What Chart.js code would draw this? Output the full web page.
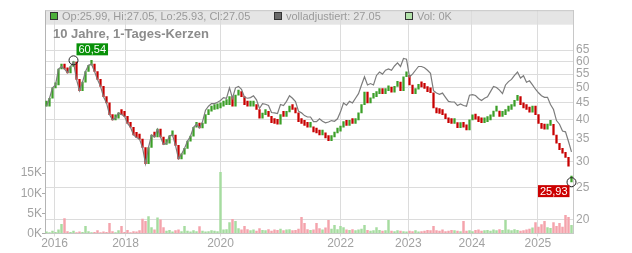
<!DOCTYPE html>
<html>
<head>
<meta charset="utf-8">
<script src="https://cdn.jsdelivr.net/npm/chart.js@4.4.1/dist/chart.umd.min.js"></script>
<style>
  html, body { margin: 0; padding: 0; background: #fff; }
  canvas { display: block; }
</style>
</head>
<body>
<canvas id="chart" width="632" height="253"></canvas>
<script>
// year boundaries, as positions on the candle index axis
const yearTicks = [2.67, 26.33, 58, 98, 120.6, 141.8, 163.8];
const yearLabels = ['2016', '2018', '2020', '2022', '2023', '2024', '2025'];
const priceTicks = [20, 25, 30, 35, 40, 45, 50, 55, 60, 65];
const volumeTicks = [0, 5000, 10000, 15000];

// grey line (volladjustiert)
const adjusted = [
    44, 46.5, 50, 51, 57, 58, 57, 55.5, 58, 59.8,
    53, 49, 52, 56, 58.5, 59, 56, 53, 50.5, 47,
    45, 41.5, 40, 40.5, 42, 41.5, 41, 39, 38, 36,
    35.4, 35, 33, 29.5, 33, 36, 35.5, 37.5, 35.5, 33.7,
    34, 35.8, 36, 33.5, 30.5, 31.5, 32.8, 34.5, 35.7, 38,
    38.8, 37.8, 39.5, 42.8, 44, 44.8, 44.8, 45.2, 45.8, 46.7,
    46.5, 50, 46.5, 50, 50.5, 49.5, 46.8, 46.5, 46.7, 47.3,
    46, 43.3, 44.8, 44.6, 44.2, 42.1, 42, 41.8, 44.5, 44.2,
    45.5, 47.3, 46.5, 45.4, 42.5, 42, 41.2, 40.8, 40.8, 39.5,
    39.5, 40.3, 39.6, 39.2, 39.4, 39.8, 39.6, 40.3, 42.3, 45,
    44.3, 45.5, 45, 46.5, 48, 51, 54, 51, 51.5, 51,
    54.5, 55.8, 55, 56.5, 57, 56.5, 58.2, 59.5, 58, 61.3,
    61, 54, 55, 56.5, 58, 58, 57.5, 56.5, 55.3, 49,
    48.2, 47.8, 48.2, 46.8, 45.5, 45.3, 45.3, 44.2, 44.7, 44.2,
    44, 47.5, 47.7, 47.4, 46.4, 45.8, 46.5, 47, 48.7, 50.5,
    50.1, 49.2, 48, 51, 52.2, 53, 54.5, 55.8, 53.5, 54.4,
    52, 52.5, 51, 49.5, 48.3, 47.3, 46.8, 46.8, 44.5, 43,
    39.8, 38.8, 37, 36.8, 34.4, 32
];

// candle closes
const closes = [
    44, 46.5, 50, 51, 57, 58, 57, 55.5, 58, 59.8,
    53, 49, 52, 56, 58.5, 59, 56, 53, 50.5, 47,
    45, 41.5, 40, 40.5, 42, 41.5, 41, 39, 38, 36,
    35.4, 35, 33, 29.5, 33, 36, 35.5, 37.5, 35.5, 33.7,
    34, 35.8, 36, 33.5, 30.5, 31.5, 32.8, 34.5, 35.7, 38,
    38.8, 37.8, 39, 41.5, 42.5, 43, 43.2, 43.5, 44, 44.5,
    44.5, 47, 44, 47.5, 48, 47, 44.5, 44, 44, 44.5,
    43, 40.5, 41.5, 41.5, 41, 39.2, 39, 38.8, 41.5, 41,
    42.3, 44, 43, 42, 39.5, 39, 38.5, 38, 38, 36.8,
    36.5, 36, 36.5, 35.3, 34.6, 35.5, 36.5, 37, 38, 39.5,
    38.5, 39.5, 39, 40, 42, 44.5, 48.5, 45, 46.5, 47,
    48, 48.5, 48, 49, 49.5, 48.5, 50.5, 52, 49, 54,
    54.5, 51, 48, 49.5, 50.5, 50.3, 49.8, 48.7, 48.3, 43.5,
    42, 41.8, 41.5, 40.3, 39.2, 39, 39.2, 37.9, 38.2, 38,
    37.3, 40, 40.3, 40.2, 39.5, 39.2, 39.5, 40, 41, 42.5,
    42.5, 41, 41.5, 42.5, 43, 44, 45.8, 47, 44.5, 43.5,
    43, 42.2, 44, 41.5, 39, 37.7, 37.5, 38.5, 38.8, 36,
    34, 32.5, 31.7, 30.8, 29, 27.05
];

const volumes = [
    400, 200, 600, 300, 900, 2300, 3700, 500, 300, 600,
    200, 400, 300, 1800, 500, 200, 300, 700, 200, 400,
    300, 2500, 500, 200, 700, 1800, 300, 800, 200, 500,
    400, 700, 3600, 3000, 4200, 1500, 900, 3900, 3400, 1500,
    600, 800, 400, 700, 900, 500, 1800, 600, 400, 700,
    500, 1700, 600, 400, 500, 700, 600, 500, 15200, 900,
    1000, 2700, 3500, 3000, 1200, 900, 1800, 1000, 700, 900,
    600, 1200, 800, 700, 1000, 600, 900, 800, 1100, 700,
    900, 1000, 700, 800, 1100, 4000, 2500, 1000, 800, 900,
    2500, 1200, 900, 1400, 3300, 1100, 2000, 1000, 1800, 1500,
    900, 800, 1000, 700, 900, 1100, 2000, 800, 600, 700,
    1500, 800, 600, 700, 3300, 600, 500, 700, 600, 500,
    400, 600, 500, 700, 400, 500, 600, 800, 700, 1800,
    700, 600, 900, 500, 600, 800, 700, 600, 500, 3000,
    600, 700, 500, 800, 900, 600, 700, 800, 600, 900,
    700, 1000, 800, 3300, 900, 700, 1000, 800, 600, 700,
    900, 1100, 1400, 2700, 1600, 2200, 3000, 1500, 1300, 2700,
    1800, 2500, 1600, 4500, 4000, 2000
];

const lastCandle = { open: 25.99, high: 27.05, low: 25.93, close: 27.05 };
const highMark = { index: 9, value: 60.54 };
const lowMark = { index: 175, value: 25.93 };

const GREEN = '#3c9f28';
const RED = '#c80000';
const VOL_GREEN = '#a6dca0';
const VOL_RED = '#f4a3ac';

const N = closes.length;
const opens = closes.map((c, i) => i === 0 ? c : closes[i - 1]);
opens[N - 1] = lastCandle.open;
const isUp = closes.map((c, i) => c >= opens[i]);

const fmt = v => v.toFixed(2).replace('.', ',');

const decorations = {
    id: 'decorations',
    beforeDraw(chart) {
        const { ctx, chartArea: a } = chart;
        ctx.save();
        ctx.fillStyle = '#e5e5e5';
        ctx.fillRect(a.left, a.top, a.right - a.left, 14.5);
        ctx.restore();
    },
    afterDraw(chart) {
        const { ctx, chartArea: a, scales } = chart;
        ctx.save();

        // top frame line
        ctx.strokeStyle = '#c8c8c8';
        ctx.lineWidth = 1;
        ctx.beginPath();
        ctx.moveTo(a.left, a.top + 0.5);
        ctx.lineTo(a.right, a.top + 0.5);
        ctx.stroke();

        // legend row
        const squares = [
            { x: 50.5, fill: '#4caf3a', text: 'Op:' + lastCandle.open.toFixed(2) + ', Hi:' + lastCandle.high.toFixed(2) +
                ', Lo:' + lastCandle.low.toFixed(2) + ', Cl:' + lastCandle.close.toFixed(2) },
            { x: 274.5, fill: '#6a6a6a', text: 'volladjustiert: ' + lastCandle.close.toFixed(2) },
            { x: 405.5, fill: '#b2e2aa', text: 'Vol: 0K' }
        ];
        ctx.font = '11px "Liberation Sans", Arial, sans-serif';
        ctx.textBaseline = 'alphabetic';
        squares.forEach(s => {
            ctx.fillStyle = s.fill;
            ctx.fillRect(s.x, 12.5, 7, 7);
            ctx.strokeStyle = '#333';
            ctx.strokeRect(s.x, 12.5, 7, 7);
            ctx.fillStyle = '#9a9a9a';
            ctx.fillText(s.text, s.x + 11.5, 19.5);
        });

        // title
        ctx.font = 'bold 13px "Liberation Sans", Arial, sans-serif';
        ctx.fillStyle = '#8c8c8c';
        ctx.fillText('10 Jahre, 1-Tages-Kerzen', 53, 37.7);

        // high / low markers
        const marks = [
            { m: highMark, color: '#089108', dx: 3, above: true },
            { m: lowMark, color: '#cc0000', dx: -2, above: false }
        ];
        ctx.font = '11px "Liberation Sans", Arial, sans-serif';
        marks.forEach(({ m, color, dx, above }) => {
            const x = scales.x.getPixelForValue(m.index);
            const y = scales.price.getPixelForValue(m.value);
            ctx.strokeStyle = '#222';
            ctx.lineWidth = 1;
            ctx.beginPath();
            ctx.arc(x, y, 4.5, 0, Math.PI * 2);
            ctx.stroke();

            const label = fmt(m.value);
            const w = ctx.measureText(label).width + 4;
            const h = 12;
            const bx = above ? x + dx : x + dx - w;
            const by = above ? y - 5 - h : y + 3;
            ctx.fillStyle = color;
            ctx.fillRect(bx, by, w, h);
            ctx.fillStyle = '#fff';
            ctx.textBaseline = 'middle';
            ctx.fillText(label, bx + 2, by + h / 2 + 0.5);
        });
        ctx.restore();
    }
};

const tickFont = { family: '"Liberation Sans", Arial, sans-serif', size: 12 };
const tickColor = '#a2a2a2';

new Chart(document.getElementById('chart'), {
    data: {
        datasets: [
            {
                type: 'line',
                label: 'volladjustiert',
                yAxisID: 'price',
                data: adjusted.map((v, i) => ({ x: i, y: v })),
                borderColor: '#7c7c7c',
                borderWidth: 1.2,
                pointRadius: 0,
                tension: 0,
                order: 1
            },
            {
                type: 'bar',
                label: 'Kerzen',
                yAxisID: 'price',
                data: closes.map((c, i) => ({ x: i, y: [Math.min(c, opens[i]), Math.max(c, opens[i])] })),
                backgroundColor: isUp.map(u => u ? GREEN : RED),
                borderWidth: 0,
                barThickness: 1.6,
                minBarLength: 5,
                grouped: false,
                order: 2
            },
            {
                type: 'bar',
                label: 'Vol',
                yAxisID: 'vol',
                data: volumes.map((v, i) => ({ x: i, y: v })),
                backgroundColor: isUp.map(u => u ? VOL_GREEN : VOL_RED),
                borderWidth: 0,
                barThickness: 1.8,
                grouped: false,
                order: 3
            }
        ]
    },
    options: {
        responsive: false,
        animation: false,
        events: [],
        layout: { padding: { top: 8, left: 0, right: 0, bottom: 0 } },
        plugins: {
            legend: { display: false },
            tooltip: { enabled: false }
        },
        scales: {
            x: {
                type: 'linear',
                position: 'bottom',
                offset: false,
                min: -0.5,
                max: N - 0.5,
                afterBuildTicks: s => { s.ticks = yearTicks.map(v => ({ value: v })); },
                afterFit: s => { s.height = 19.5; },
                ticks: {
                    callback: (v, idx) => yearLabels[idx],
                    font: tickFont,
                    color: tickColor,
                    padding: 0,
                    maxRotation: 0,
                    autoSkip: false
                },
                grid: { color: '#dcdcdc', tickLength: 3, drawTicks: true, offset: false },
                border: { color: '#c8c8c8' }
            },
            price: {
                type: 'logarithmic',
                position: 'right',
                min: 18.135,
                max: 85.82,
                afterBuildTicks: s => { s.ticks = priceTicks.map(v => ({ value: v })); },
                afterFit: s => { s.width = 59; },
                ticks: {
                    callback: v => String(v),
                    font: tickFont,
                    color: tickColor,
                    padding: 3,
                    autoSkip: false
                },
                grid: { color: '#dcdcdc', drawTicks: false },
                border: { color: '#c8c8c8' }
            },
            vol: {
                type: 'linear',
                position: 'left',
                min: 0,
                max: 55446,
                afterBuildTicks: s => { s.ticks = volumeTicks.map(v => ({ value: v })); },
                afterFit: s => { s.width = 45; },
                ticks: {
                    callback: v => (v / 1000) + 'K',
                    font: tickFont,
                    color: tickColor,
                    padding: 0,
                    autoSkip: false
                },
                grid: { drawOnChartArea: false, drawTicks: true, tickLength: 3, color: '#aaaaaa' },
                border: { color: '#b4b4b4' }
            }
        }
    },
    plugins: [decorations]
});
</script>
</body>
</html>
